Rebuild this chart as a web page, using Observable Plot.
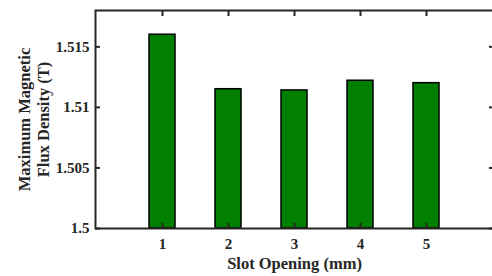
<!DOCTYPE html>
<html><head><meta charset="utf-8">
<script src="https://cdn.jsdelivr.net/npm/d3@7"></script>
<script src="https://cdn.jsdelivr.net/npm/@observablehq/plot@0.6"></script>
<style>html,body{margin:0;padding:0;background:#fff;overflow:hidden;width:492px;height:276px}</style>
</head><body><div id="chart"></div>
<script>
const slotOpenings = [1, 2, 3, 4, 5];
const fluxDensity = [1.5160, 1.5115, 1.5114, 1.5122, 1.5120];
const yTicks = [1.5, 1.505, 1.51, 1.515];
const yDomain = [1.5, 1.518];
const xLabel = "Slot Opening (mm)";
const yLabel = "Maximum Magnetic\nFlux Density (T)";

const data = slotOpenings.map((s, i) => ({slot: s, flux: fluxDensity[i]}));
const axisColor = "#262626";
const font = "'Liberation Serif', 'Times New Roman', serif";

const plot = Plot.plot({
  width: 492, height: 276,
  marginLeft: 95, marginRight: -1, marginTop: 10, marginBottom: 48,
  style: {fontFamily: font, fontWeight: "bold", fontSize: "15px", color: axisColor, background: "#fff"},
  x: {type: "band", domain: slotOpenings, paddingInner: 0.6, paddingOuter: 0.8, align: 0.5},
  y: {domain: yDomain, clamp: true},
  marks: [
    Plot.barY(data, {x: "slot", y1: yDomain[0], y2: "flux", fill: "#007f00", stroke: "#000", strokeWidth: 1.5}),
    Plot.frame({stroke: axisColor, strokeWidth: 2}),
    Plot.axisY(yTicks, {anchor: "left", tickSize: -5, tickPadding: 11, tickFormat: d => String(d), color: axisColor, strokeWidth: 2, fontSize: 15, label: null}),
    Plot.axisY(yTicks, {anchor: "right", tickSize: -5, tickFormat: () => "", color: axisColor, strokeWidth: 2, label: null}),
    Plot.axisX({anchor: "bottom", tickSize: -5, tickPadding: 15, color: axisColor, strokeWidth: 2, fontSize: 15, label: null}),
    Plot.axisX({anchor: "top", tickSize: -5, tickFormat: () => "", color: axisColor, strokeWidth: 2, label: null}),
    Plot.text([xLabel], {frameAnchor: "bottom", dy: 35, fontSize: 16.5, fill: axisColor, lineAnchor: "middle"}),
    Plot.text([yLabel], {frameAnchor: "left", dx: -62.5, rotate: -90, fontSize: 16.5, lineHeight: 1.18, fill: axisColor, textAnchor: "middle", lineAnchor: "middle"})
  ]
});
document.getElementById("chart").appendChild(plot);
</script>
</body></html>
